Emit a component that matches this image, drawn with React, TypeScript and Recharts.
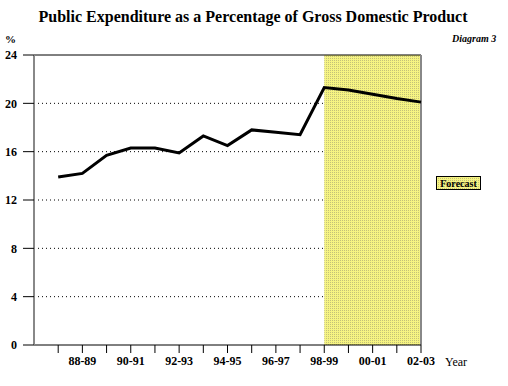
import { LineChart, Line, XAxis, YAxis, CartesianGrid, ReferenceArea, ReferenceLine } from 'recharts';

const years = [
  '87-88', '88-89', '89-90', '90-91', '91-92', '92-93', '93-94', '94-95',
  '95-96', '96-97', '97-98', '98-99', '99-00', '00-01', '01-02', '02-03',
];
const expenditure = [
  13.9, 14.2, 15.7, 16.3, 16.3, 15.9, 17.3, 16.5,
  17.8, 17.6, 17.4, 21.3, 21.1, 20.75, 20.4, 20.1,
];
const yTicks = [0, 4, 8, 12, 16, 20, 24];
const gridLevels = [4, 8, 12, 16, 20];
const forecastFrom = '98-99';

const data = years.map((year, i) => ({ idx: i, year, value: expenditure[i] }));
const xTicks = years.map((_, i) => i);
const forecastStart = years.indexOf(forecastFrom);
const lastIdx = years.length - 1;

const serif = '"Liberation Serif", "DejaVu Serif", serif';

// legend key, drawn outside the chart so it doesn't eat into the plot width
const ForecastKey = () => (
  <svg width={46} height={15} style={{ position: 'absolute', left: 436, top: 176 }}>
    <rect x={0.5} y={0.5} width={44} height={13} fill="url(#stipple)" stroke="#000" />
    <text x={22.5} y={11} textAnchor="middle" fontFamily={serif} fontWeight="bold" fontSize={10} fill="#000">
      Forecast
    </text>
  </svg>
);

export default function App() {
  return (
    <div style={{ position: 'absolute', left: 0, top: 0, width: 508, height: 386, background: '#fff', fontFamily: serif }}>
      <div style={{ position: 'absolute', left: 0, width: 506, top: 8, textAlign: 'center', fontWeight: 'bold', fontSize: 16 }}>
        Public Expenditure as a Percentage of Gross Domestic Product
      </div>
      <div style={{ position: 'absolute', left: 452, top: 33, fontWeight: 'bold', fontStyle: 'italic', fontSize: 10 }}>
        Diagram 3
      </div>
      <div style={{ position: 'absolute', left: 5, top: 33, fontWeight: 'bold', fontSize: 11, lineHeight: '12px' }}>%</div>
      <div style={{ position: 'absolute', left: 445, top: 355, fontSize: 12 }}>Year</div>

      <LineChart width={508} height={386} data={data} margin={{ top: 55, right: 87, bottom: 11, left: 0 }}>
        <defs>
          <pattern id="stipple" width={2} height={2} patternUnits="userSpaceOnUse">
            <rect width={2} height={2} fill="#f6f482" />
            <rect width={1} height={1} fill="#c4c278" />
          </pattern>
        </defs>
        <ReferenceArea x1={forecastStart} x2={lastIdx} y1={0} y2={24} fill="url(#stipple)" fillOpacity={1} stroke="none" />
        <CartesianGrid vertical={false} horizontalValues={gridLevels} stroke="#000" strokeDasharray="1 3" />
        <XAxis
          dataKey="idx"
          type="number"
          domain={[-1, lastIdx]}
          ticks={xTicks}
          interval={0}
          tickFormatter={(i: number) => (i % 2 === 1 ? years[i] : '')}
          tickSize={8}
          tickMargin={3}
          height={30}
          axisLine={{ stroke: '#000' }}
          tickLine={{ stroke: '#000' }}
          tick={{ fill: '#000', fontFamily: serif, fontWeight: 'bold', fontSize: 12 }}
        />
        <YAxis
          domain={[0, 24]}
          ticks={yTicks}
          interval={0}
          width={34}
          tickSize={11}
          tickMargin={6}
          axisLine={{ stroke: '#888', strokeWidth: 2 }}
          tickLine={{ stroke: '#000' }}
          tick={{ fill: '#000', fontFamily: serif, fontWeight: 'bold', fontSize: 12 }}
        />
        <ReferenceLine y={24} stroke="#000" />
        <ReferenceLine x={lastIdx} stroke="#888" strokeWidth={2} />
        <Line
          type="linear"
          dataKey="value"
          stroke="#000"
          strokeWidth={3}
          dot={false}
          isAnimationActive={false}
        />
      </LineChart>
      <ForecastKey />
    </div>
  );
}
